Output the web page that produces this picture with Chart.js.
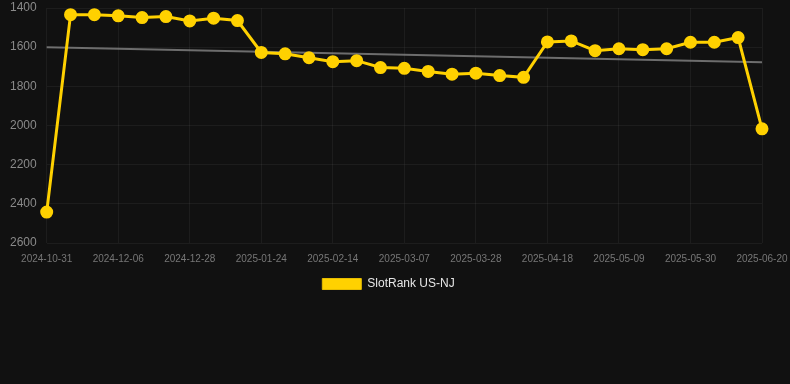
<!DOCTYPE html>
<html>
<head>
<meta charset="utf-8">
<script src="https://cdn.jsdelivr.net/npm/chart.js@4"></script>
<style>
  html, body { margin: 0; padding: 0; background: #111111; }
  #wrap { width: 790px; height: 300px; position: relative; }
</style>
</head>
<body>
<div id="wrap"><canvas id="rankChart"></canvas></div>
<script>
// weekly dates (category axis)
const dates = [
  '2024-10-31', '2024-11-22', '2024-11-29', '2024-12-06', '2024-12-13', '2024-12-20',
  '2024-12-28', '2025-01-03', '2025-01-17', '2025-01-24', '2025-01-31', '2025-02-07',
  '2025-02-14', '2025-02-21', '2025-02-28', '2025-03-07', '2025-03-14', '2025-03-21',
  '2025-03-28', '2025-04-04', '2025-04-11', '2025-04-18', '2025-04-25', '2025-05-02',
  '2025-05-09', '2025-05-16', '2025-05-23', '2025-05-30', '2025-06-06', '2025-06-13',
  '2025-06-20'
];

// SlotRank US-NJ (lower is better, axis is reversed)
const rankNJ = [
  2442, 1434, 1434, 1440, 1449, 1444, 1466, 1452, 1464, 1627,
  1634, 1654, 1674, 1669, 1704, 1708, 1724, 1738, 1733, 1745,
  1754, 1573, 1568, 1618, 1608, 1613, 1608, 1575, 1575, 1551,
  2017
];

// trend line: only the two ends, joined
const trend = new Array(dates.length).fill(null);
trend[0] = 1600;
trend[dates.length - 1] = 1677;

const yTicks = { min: 1400, max: 2600, step: 200 };

document.addEventListener('DOMContentLoaded', function() {
  const ctx = document.getElementById('rankChart').getContext('2d');
  const defaultLabels = Chart.defaults.plugins.legend.labels.generateLabels;
  new Chart(ctx, {
    type: 'line',
    data: {
      labels: dates,
      datasets: [
        {
          label: 'SlotRank US-NJ',
          data: rankNJ,
          borderColor: '#ffd100',
          backgroundColor: '#ffd100',
          borderWidth: 3,
          pointRadius: 5,
          pointHoverRadius: 5,
          pointBackgroundColor: '#ffd100',
          pointBorderColor: '#ffd100',
          tension: 0
        },
        {
          label: 'trend',
          data: trend,
          borderColor: 'rgba(140,140,140,0.75)',
          borderWidth: 2,
          pointRadius: 0,
          spanGaps: true,
          tension: 0
        }
      ]
    },
    options: {
      responsive: true,
      maintainAspectRatio: false,
      animation: false,
      layout: { padding: { left: 0, right: 13, top: 0, bottom: 0 } },
      plugins: {
        tooltip: { enabled: false },
        legend: {
          position: 'bottom',
          labels: {
            color: '#e6e6e6',
            boxWidth: 39,
            boxHeight: 11,
            font: { family: 'Liberation Sans, Arial, sans-serif', size: 12 },
            filter: item => item.text !== 'trend',
            generateLabels: chart => defaultLabels(chart).map(l => {
              l.lineWidth = 1;
              l.strokeStyle = '#e6bc00';
              return l;
            })
          }
        }
      },
      scales: {
        x: {
          grid: { color: 'rgba(255,255,255,0.05)', drawTicks: false },
          border: { display: false },
          afterFit: axis => {
            axis.height -= 7;
            axis.paddingLeft = 0;
            axis.paddingRight = 28;
          },
          ticks: {
            color: '#777777',
            padding: 10,
            maxRotation: 0,
            autoSkip: true,
            maxTicksLimit: 11,
            font: { family: 'Liberation Sans, Arial, sans-serif', size: 10 }
          }
        },
        y: {
          reverse: true,
          min: yTicks.min,
          max: yTicks.max,
          grid: { color: 'rgba(255,255,255,0.05)', drawTicks: false },
          border: { display: false },
          afterFit: axis => {
            axis.paddingTop = 4;
            axis.paddingBottom = 0;
          },
          ticks: {
            stepSize: yTicks.step,
            color: '#8a8a8a',
            padding: 10,
            callback: v => String(v),
            font: { family: 'Liberation Sans, Arial, sans-serif', size: 12 }
          }
        }
      }
    }
  });
});
</script>
</body>
</html>
